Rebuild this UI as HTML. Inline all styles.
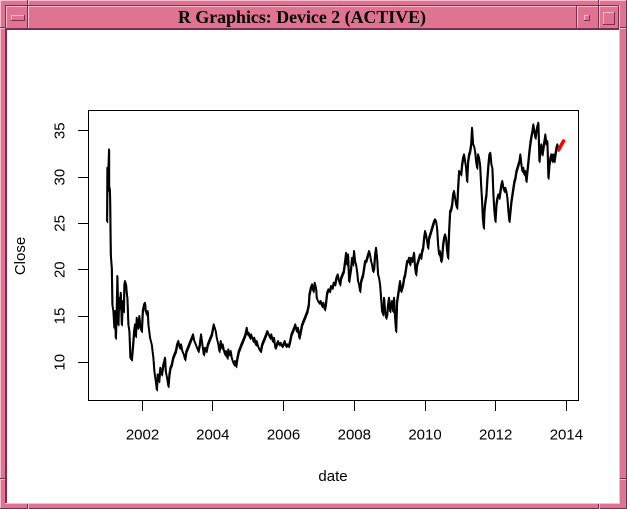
<!DOCTYPE html>
<html><head><meta charset="utf-8">
<style>
html,body{margin:0;padding:0;width:627px;height:509px;overflow:hidden;background:#fff;}
svg{display:block;}
</style></head>
<body>
<svg width="627" height="509" viewBox="0 0 627 509" xmlns="http://www.w3.org/2000/svg">
<defs>
<polyline id="ser" fill="none" stroke-linejoin="round" stroke-linecap="round" points="
107,221 107.3,167.7 108,177.7 109,149.3 109,191 109.7,187.7 110,197.7 110.7,254.3 111.7,267.7 112.3,304.3 113.3,311 114.3,327.7 115,311 115.7,337.7 116.7,307.7 117.3,276 118.3,324.3 119,297.7 120,307.7 120.7,292.7 121.7,324.3 122.7,301 123.7,311 124.3,284.3 125,281 126,284.3 126.7,292.7 127.3,297.7 128.3,324.3 129.3,331 130.3,357.7 131.7,359.3 133.3,341 134,331 135,324.3 135.7,336 136.7,317.7 137.7,327.7 138.3,324.3 139.3,316 140.3,327.7 141.7,331 142.7,311 144,304.3 145,302.7 145.7,311 146.7,314.3 147.7,311 148.3,324.3 150,337.7 151.7,344.3 153.3,357.7 154.3,371 155.7,381 156.7,389.3 157.7,374.3 159,381 160.3,367.7 161.7,374.3 163.3,364.3 165,357.7 165.7,371 167,377.7 168.3,386 169.3,374.3 170.3,367.7 171.7,364.3 173,357.7 174.3,354.3 175.7,351 177,344.3 178.3,341 179.7,347.7 181,344.3 182.3,351 183.7,354.3 185,359.3 186.3,351 187.7,347.7 189,344.3 190.3,341 191.7,337.7 193,334.3 194.3,341 195.7,344.3 197,347.7 198.3,351 199.7,344.3 201,334.3 202.3,344.3 203.7,354.3 205,347.7 206.3,351 207.7,344.3 209,341 210.3,337.7 211.7,334.3 213.7,324.3
215.7,331 216.7,337.7 218.3,344.3 219.3,351 220.7,341 221.7,347.7 222.7,344.3 224,351 225,354.3 226,351 227.3,357.7 228.3,349.3 229.3,354.3 230.7,351 231.7,357.7 232.7,361 234,364.3 235,361 236,366 237.3,357.7 238.7,351 240,347.7 241.3,344.3 242.7,341 244,337.7 245.3,334.3 246.7,327.7 247.7,334.3 248.7,332.7 250,337.7 251,334.3 252.3,337.7 253.3,341 254.3,337.7 255.7,344.3 256.7,341 258,346 259.3,349.3 260.7,351 262,344.3 263.3,341 264.7,337.7 266,334.3 267.3,331 268.7,334.3 270,337.7 271.3,334.3 272.7,341 274,337.7 275.3,347.7 276.7,344.3 278,341 279.3,344.3 280.7,342.7 282,346 283.3,344.3 284.7,341 286,346 287.3,344.3 288.7,346 290,341 291.3,334.3 292.7,331 294,327.7 295.3,324.3 296.7,331 298,327.7 299.3,337.7 300.7,331 302,324.3 303.3,321 304.7,317.7 306,314.3 307.3,311 308.7,304.3 309.3,294.3 310.7,287.7 312,284.3 313.3,291 314.7,282.7 316,287.7 316.7,297.7 318,301 319.3,302.7 320.7,301 322,306 323.3,302.7 324.7,309.3 325.7,304.3
327,292.7 328.3,289.3 329.7,291 331,286 332.3,287.7 333.7,282.7 335,284.3 336.3,277.7 337.7,274.3 339,281 340,284.3 341,277.7 342.3,274.3 343.7,271 345,261 346,252.7 347,264.3 348,254.3 349,281 350,274.3 351,267.7 352,257.7 353,264.3 354,251 355,261 356,264.3 357,271 358,281 359,284.3 360,291 361,281 362,277.7 363,274.3 364,267.7 365,261 366,261 367,257.7 368,254.3 369,251 370,254.3 371,261 372,264.3 373,271 374,267.7 375,254.3 376,247.7 377,257.7 378,274.3 379,277.7 380,284.3 381,297.7 382,311 383,314.3 384,297.7 385,311 386,317.7 387,314.3 388,304.3 389,297.7 390,311 391,304.3 392,301 393,311 394,297.7 395,317.7 396,331 397,301 398,294.3 399,287.7 400,281 401,291 402,287.7 403,284.3 404,277.7 405,274.3 406,267.7 407,261 408,261 409,257.7 410,264.3 411,257.7 412,261 413,257.7 414,252.7 415,267.7 416,274.3 417,264.3 418,261 419,257.7 420,254.3 421,257.7 422,251 423,247.7 424,237.7 425,231 426,234.3 427,241 428,247.7 429,237.7 430,234.3 431,231 432,227.7 433,224.3 434,221 435,219.3 436,221 437,227.7 438,244.3 439,254.3 440,251 441,261 442,257.7 443,244.3 444,237.7
445,234.3 446,237.7 447,251 448,257.7 449,231 450,211 451,209.3 452,204.3 453,194.3 454,191 455,197.7 456,204.3 457,207.7 458,187.7 459,171 460,172.7 461,174.3 462,164.3 463,157.7 464,154.3 465,161 466,167.7 467,181 468,161 469,154.3 470,151 471,144.3 472,127.7 473,144.3 474,146 475,151 476,161 477,167.7 478,154.3 479,157.7 480,164.3 481,184.3 482,201 482.7,217.7 483.7,227.7 484.3,211 485.3,201 486.3,194.3 487.3,177.7 488.3,164.3 489.3,154.3 490.3,152.7 491.3,164.3 492.3,167.7 493.3,194.3 494.3,211 495.3,221 496.3,204.3 497.3,197.7 498.3,194.3 499.3,197.7 500.3,191 501.3,184.3 502.3,181 503.3,187.7 504.3,191 505.3,187.7 506.3,191 507.3,197.7 508.3,211 509.3,221 510.3,211 511.3,201 512.3,194.3 513.3,187.7 514.3,181 515.3,177.7 516.3,171 517.3,167.7 518.3,164.3 519.3,161 520.3,154.3 521.3,164.3 522.3,171 523.3,167.7 524.3,174.3 525.3,171 526.3,181 527.3,171 528.3,161 529.3,151 530.3,142.7 531.3,136 532.3,131 533.3,124.3 534.3,131 535.3,137.7 536.3,131 537.3,126 538.3,122.7 539.3,161 540.3,151 541.3,144.3 542.3,154.3 543.3,147.7 544.3,141 545.3,134.3 546.3,144.3 547.3,141 548.3,177.7 549.3,164.3 550.3,157.7 551.3,154.3 552.3,161 553.3,154.3 554.3,161 555.3,154.3 556.3,147.7 557.3,144.3 558.3,149.3"/>
</defs>
<!-- window frame -->
<rect x="0" y="0" width="627" height="509" fill="#e07292"/>
<rect x="0" y="0" width="627" height="1" fill="#f6bccf"/>
<rect x="0" y="0" width="1" height="509" fill="#f6bccf"/>
<rect x="0" y="508" width="627" height="1" fill="#7b2f4f"/>
<rect x="626" y="0" width="1" height="509" fill="#7b2f4f"/>
<rect x="5" y="5" width="615" height="1" fill="#7b2f4f"/>
<rect x="5" y="5" width="1" height="499" fill="#7b2f4f"/>
<rect x="619" y="5" width="1" height="499" fill="#f6bccf"/>
<rect x="5" y="503" width="615" height="1" fill="#f6bccf"/>
<!-- corner notches -->
<rect x="27" y="0" width="1" height="5" fill="#7b2f4f"/><rect x="28" y="0" width="1" height="5" fill="#f6bccf"/>
<rect x="598" y="0" width="1" height="5" fill="#7b2f4f"/><rect x="599" y="0" width="1" height="5" fill="#f6bccf"/>
<rect x="27" y="504" width="1" height="5" fill="#7b2f4f"/><rect x="28" y="504" width="1" height="5" fill="#f6bccf"/>
<rect x="598" y="504" width="1" height="5" fill="#7b2f4f"/><rect x="599" y="504" width="1" height="5" fill="#f6bccf"/>
<rect x="0" y="27" width="5" height="1" fill="#7b2f4f"/><rect x="0" y="28" width="5" height="1" fill="#f6bccf"/>
<rect x="0" y="478" width="5" height="1" fill="#7b2f4f"/><rect x="0" y="479" width="5" height="1" fill="#f6bccf"/>
<rect x="620" y="27" width="6" height="1" fill="#7b2f4f"/><rect x="620" y="28" width="6" height="1" fill="#f6bccf"/>
<rect x="620" y="478" width="6" height="1" fill="#7b2f4f"/><rect x="620" y="479" width="6" height="1" fill="#f6bccf"/>
<!-- menu button -->
<rect x="6" y="6" width="22" height="1" fill="#f6bccf"/><rect x="6" y="6" width="1" height="23" fill="#f6bccf"/>
<rect x="6" y="28" width="22" height="1" fill="#7b2f4f"/><rect x="27" y="6" width="1" height="23" fill="#7b2f4f"/>
<rect x="11" y="15" width="14" height="1" fill="#f6bccf"/><rect x="11" y="15" width="1" height="6" fill="#f6bccf"/>
<rect x="11" y="20" width="14" height="1" fill="#7b2f4f"/><rect x="24" y="15" width="1" height="6" fill="#7b2f4f"/>
<!-- title -->
<rect x="28" y="6" width="549" height="1" fill="#f6bccf"/><rect x="28" y="6" width="1" height="23" fill="#f6bccf"/>
<rect x="28" y="28" width="549" height="1" fill="#7b2f4f"/><rect x="576" y="6" width="1" height="23" fill="#7b2f4f"/>
<!-- minimize -->
<rect x="577" y="6" width="22" height="1" fill="#f6bccf"/><rect x="577" y="6" width="1" height="23" fill="#f6bccf"/>
<rect x="577" y="28" width="22" height="1" fill="#7b2f4f"/><rect x="598" y="6" width="1" height="23" fill="#7b2f4f"/>
<rect x="584" y="15" width="6" height="1" fill="#f6bccf"/><rect x="584" y="15" width="1" height="6" fill="#f6bccf"/>
<rect x="584" y="20" width="6" height="1" fill="#7b2f4f"/><rect x="589" y="15" width="1" height="6" fill="#7b2f4f"/>
<!-- maximize -->
<rect x="599" y="6" width="20" height="1" fill="#f6bccf"/><rect x="599" y="6" width="1" height="23" fill="#f6bccf"/>
<rect x="599" y="28" width="20" height="1" fill="#7b2f4f"/><rect x="618" y="6" width="1" height="23" fill="#7b2f4f"/>
<rect x="603" y="12" width="12" height="1" fill="#f6bccf"/><rect x="603" y="12" width="1" height="13" fill="#f6bccf"/>
<rect x="603" y="24" width="12" height="1" fill="#7b2f4f"/><rect x="614" y="12" width="1" height="13" fill="#7b2f4f"/>
<text x="302" y="23" text-anchor="middle" font-family="'Liberation Serif', serif" font-weight="bold" font-size="18" textLength="248" lengthAdjust="spacingAndGlyphs" fill="#000">R Graphics: Device 2 (ACTIVE)</text>
<!-- client area -->
<rect x="6" y="29" width="613" height="1" fill="#7b2f4f"/>
<rect x="6" y="29" width="1" height="474" fill="#7b2f4f"/>
<rect x="7" y="30" width="612" height="473" fill="#ffffff"/>

<!-- plot box -->
<rect x="88.5" y="110.5" width="490" height="290" fill="none" stroke="#000" stroke-width="1"/>
<g stroke="#000" stroke-width="1">
<line x1="88.5" y1="130.5" x2="88.5" y2="362.5"/>
<line x1="78" y1="130.5" x2="88.5" y2="130.5"/>
<line x1="78" y1="177.5" x2="88.5" y2="177.5"/>
<line x1="78" y1="223.5" x2="88.5" y2="223.5"/>
<line x1="78" y1="269.5" x2="88.5" y2="269.5"/>
<line x1="78" y1="316.5" x2="88.5" y2="316.5"/>
<line x1="78" y1="362.5" x2="88.5" y2="362.5"/>
<line x1="142.5" y1="400.5" x2="142.5" y2="411"/>
<line x1="212.5" y1="400.5" x2="212.5" y2="411"/>
<line x1="283.5" y1="400.5" x2="283.5" y2="411"/>
<line x1="354.5" y1="400.5" x2="354.5" y2="411"/>
<line x1="425.5" y1="400.5" x2="425.5" y2="411"/>
<line x1="495.5" y1="400.5" x2="495.5" y2="411"/>
<line x1="566.5" y1="400.5" x2="566.5" y2="411"/>
</g>
<g font-family="'Liberation Sans', Arial, sans-serif" font-size="15" fill="#000" text-anchor="middle">
<text transform="translate(64.5,130.8) rotate(-90)">35</text>
<text transform="translate(64.5,177.1) rotate(-90)">30</text>
<text transform="translate(64.5,223.4) rotate(-90)">25</text>
<text transform="translate(64.5,269.7) rotate(-90)">20</text>
<text transform="translate(64.5,316) rotate(-90)">15</text>
<text transform="translate(64.5,362.3) rotate(-90)">10</text>
<text x="142.5" y="439.5">2002</text>
<text x="212.8" y="439.5">2004</text>
<text x="283.5" y="439.5">2006</text>
<text x="354.3" y="439.5">2008</text>
<text x="425" y="439.5">2010</text>
<text x="495.7" y="439.5">2012</text>
<text x="566.4" y="439.5">2014</text>
<text x="333" y="481">date</text>
<text transform="translate(25,256) rotate(-90)">Close</text>
</g>

<!-- series -->
<use href="#ser" stroke="#000" stroke-width="1.9"/>
<use href="#ser" stroke="#000" stroke-width="1.2" transform="translate(0.6,1.6)"/>
<line x1="558.5" y1="150" x2="563.5" y2="141" stroke="#ff0000" stroke-width="3.5" stroke-linecap="round"/>
</svg>
</body></html>
